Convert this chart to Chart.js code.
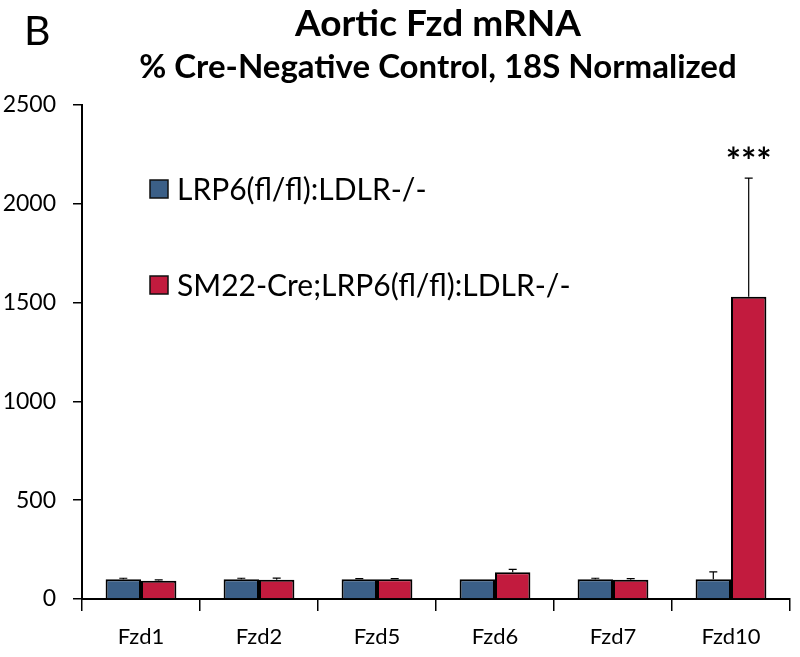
<!DOCTYPE html>
<html>
<head>
<meta charset="utf-8">
<script src="https://cdn.jsdelivr.net/npm/chart.js@4.4.1/dist/chart.umd.min.js"></script>
<style>
  html, body { margin: 0; padding: 0; background: #fff; }
  #wrap { width: 800px; height: 657px; }
</style>
</head>
<body>
<div id="wrap"><canvas id="chartFzd"></canvas></div>
<script>
(() => {
  'use strict'
  // Données
  const labels = ['Fzd1', 'Fzd2', 'Fzd5', 'Fzd6', 'Fzd7', 'Fzd10'];
  const ctrlValues = [100, 100, 100, 100, 100, 100];
  const ctrlErr = [5, 5, 3, 0, 5, 37];
  const creValues = [92, 98, 100, 135, 98, 1530];
  const creErr = [5, 8, 3, 15, 5, 600];
  const stars = ['', '', '', '', '', '***'];
  const yTicks = [0, 500, 1000, 1500, 2000, 2500];

  const FONT = 'Lato, "Open Sans", sans-serif';

  // barres d'erreur (vers le haut seulement) + étoiles
  const errorBars = {
    id: 'errorBars',
    afterDatasetsDraw(chart) {
      const { ctx, scales: { y } } = chart;
      const errs = [ctrlErr, creErr];
      ctx.save();
      ctx.strokeStyle = '#000';
      ctx.lineWidth = 1.2;
      chart.data.datasets.forEach((ds, i) => {
        const meta = chart.getDatasetMeta(i);
        meta.data.forEach((bar, j) => {
          const e = errs[i][j];
          if (!e) return;
          const top = y.getPixelForValue(ds.data[j] + e);
          ctx.beginPath();
          ctx.moveTo(bar.x, bar.y);
          ctx.lineTo(bar.x, top);
          ctx.moveTo(bar.x - 4, top);
          ctx.lineTo(bar.x + 4, top);
          ctx.stroke();
        });
      });
      // étoiles de significativité
      ctx.fillStyle = '#000';
      ctx.font = 'bold 36px ' + FONT;
      ctx.textAlign = 'center';
      ctx.textBaseline = 'alphabetic';
      const meta = chart.getDatasetMeta(1);
      stars.forEach((s, j) => {
        if (!s) return;
        const top = y.getPixelForValue(creValues[j] + creErr[j]);
        ctx.fillText(s, meta.data[j].x, top - 4);
      });
      ctx.restore();
    }
  };

  // titres, lettre du panneau et légende dessinés à la main
  const decorations = {
    id: 'decorations',
    afterDraw(chart) {
      const { ctx, chartArea } = chart;
      const cx = (chartArea.left + chartArea.right) / 2;
      ctx.save();
      ctx.fillStyle = '#000';
      ctx.textAlign = 'center';
      ctx.textBaseline = 'alphabetic';
      ctx.font = 'bold 37px ' + FONT;
      ctx.fillText('Aortic Fzd mRNA', cx + 2, 36);
      ctx.font = 'bold 33px ' + FONT;
      ctx.fillText('% Cre-Negative Control, 18S Normalized', cx + 2, 78);
      ctx.textAlign = 'left';
      ctx.font = '41px ' + FONT;
      ctx.fillText('B', 24, 45);

      // légende
      const items = [
        { label: chart.data.datasets[0].label, color: chart.data.datasets[0].backgroundColor, y: 180 },
        { label: chart.data.datasets[1].label, color: chart.data.datasets[1].backgroundColor, y: 276 }
      ];
      ctx.font = '30px ' + FONT;
      ctx.textBaseline = 'middle';
      items.forEach(it => {
        ctx.fillStyle = it.color;
        ctx.fillRect(150, it.y, 18, 18);
        ctx.strokeStyle = '#111';
        ctx.lineWidth = 1.5;
        ctx.strokeRect(150, it.y, 18, 18);
        ctx.fillStyle = '#000';
        ctx.fillText(it.label, 177, it.y + 10);
      });
      ctx.restore();
    }
  };

  new Chart(document.getElementById('chartFzd'), {
    type: 'bar',
    data: {
      labels: labels,
      datasets: [{
        label: 'LRP6(fl/fl):LDLR-/-',
        data: ctrlValues,
        backgroundColor: '#3b5f87',
        borderColor: '#000',
        borderWidth: 2,
        borderSkipped: 'bottom'
      }, {
        label: 'SM22-Cre;LRP6(fl/fl):LDLR-/-',
        data: creValues,
        backgroundColor: '#c21b3e',
        borderColor: '#000',
        borderWidth: 2,
        borderSkipped: 'bottom'
      }]
    },
    options: {
      responsive: true,
      maintainAspectRatio: false,
      animation: false,
      categoryPercentage: 0.6,
      barPercentage: 1,
      layout: { padding: { top: 105, right: 10, left: 0, bottom: 0 } },
      plugins: {
        legend: { display: false },
        tooltip: { enabled: false }
      },
      scales: {
        x: {
          grid: { display: true, drawOnChartArea: false, offset: true, tickLength: 12, color: '#000', lineWidth: 1.5 },
          border: { display: true, color: '#000', width: 2 },
          ticks: { color: '#000', font: { family: FONT, size: 22 }, padding: 13 },
          afterFit(scale) { scale.height = 58; }
        },
        y: {
          min: 0,
          max: 2500,
          afterBuildTicks(scale) { scale.ticks = yTicks.map(v => ({ value: v })); },
          grid: { display: true, drawOnChartArea: false, tickLength: 9, color: '#000', lineWidth: 1.5 },
          border: { display: true, color: '#000', width: 2 },
          ticks: { color: '#000', font: { family: FONT, size: 23 }, padding: 17, callback: v => String(v) },
          afterFit(scale) { scale.width = 82; }
        }
      }
    },
    plugins: [errorBars, decorations]
  });
})();
</script>
</body>
</html>
